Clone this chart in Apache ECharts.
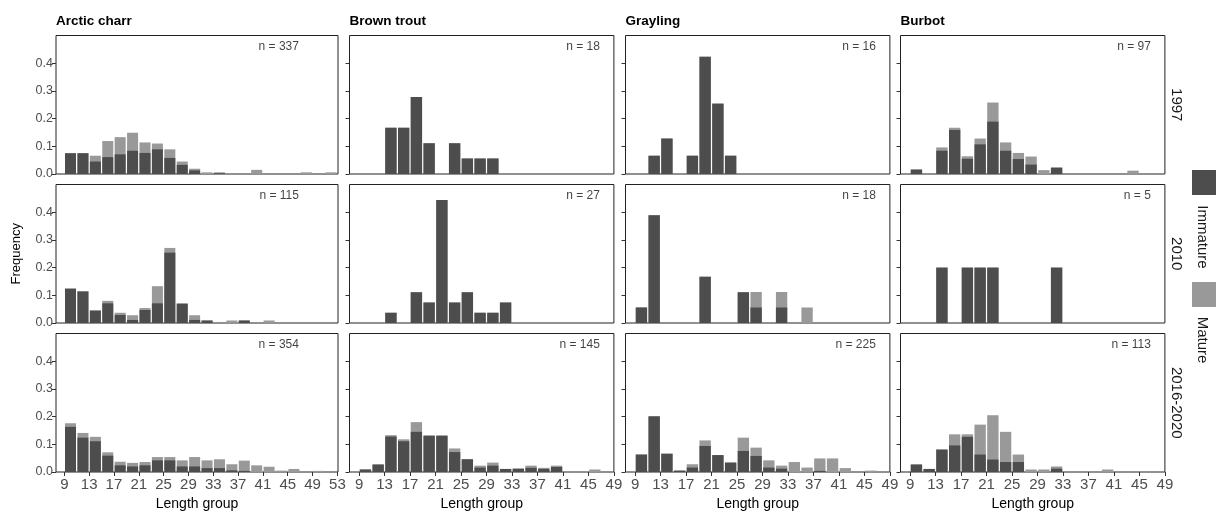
<!DOCTYPE html>
<html><head><meta charset="utf-8">
<script src="https://cdn.jsdelivr.net/npm/echarts@6/dist/echarts.min.js"></script>
<style>html,body{margin:0;padding:0;background:#fff}#c{width:1216px;height:514px}</style>
</head><body><div id="c"></div>
<script>
// ---------- data ----------
const species = ['Arctic charr', 'Brown trout', 'Grayling', 'Burbot'];
const periods = ['1997', '2010', '2016-2020'];
const binsCharr = [10,12,14,16,18,20,22,24,26,28,30,32,34,36,38,40,42,44,46,48,50,52];
const binsOther = [10,12,14,16,18,20,22,24,26,28,30,32,34,36,38,40,42,44,46,48];
const xTicksCharr = [9,13,17,21,25,29,33,37,41,45,49,53];
const xTicksOther = [9,13,17,21,25,29,33,37,41,45,49];
const yTicks = [0, 0.1, 0.2, 0.3, 0.4];
const nCounts1997 = [337, 18, 16, 97];
const nCounts2010 = [115, 27, 18, 5];
const nCounts2016 = [354, 145, 225, 113];

const charr1997Imm = [0.075,0.075,0.045,0.061,0.071,0.084,0.076,0.089,0.058,0.033,0.013,0,0.003,0,0,0,0,0,0,0,0,0];
const charr1997Mat = [0,0,0.021,0.058,0.062,0.065,0.038,0.021,0.031,0.012,0.006,0.006,0.003,0,0,0.015,0,0,0,0.006,0,0.006];
const trout1997Imm = [0,0,0.167,0.167,0.278,0.111,0,0.111,0.056,0.056,0.056,0,0,0,0,0,0,0,0,0];
const trout1997Mat = [0,0,0,0,0,0,0,0,0,0,0,0,0,0,0,0,0,0,0,0];
const grayling1997Imm = [0,0.066,0.128,0,0.066,0.423,0.254,0.066,0,0,0,0,0,0,0,0,0,0,0,0];
const grayling1997Mat = [0,0,0,0,0,0,0,0,0,0,0,0,0,0,0,0,0,0,0,0];
const burbot1997Imm = [0.016,0,0.084,0.159,0.055,0.107,0.189,0.084,0.054,0.034,0,0.023,0,0,0,0,0,0,0,0];
const burbot1997Mat = [0,0,0.012,0.008,0.009,0.021,0.069,0.030,0.022,0.029,0.014,0,0,0,0,0,0,0.012,0,0];

const charr2010Imm = [0.124,0.114,0.045,0.071,0.029,0.011,0.047,0.071,0.254,0.070,0.011,0.009,0,0,0.009,0,0,0,0,0,0,0];
const charr2010Mat = [0,0,0,0.009,0.008,0.017,0.007,0.062,0.017,0,0.017,0,0,0.009,0,0,0.009,0,0,0,0,0];
const trout2010Imm = [0,0,0.037,0,0.111,0.074,0.444,0.074,0.111,0.037,0.037,0.074,0,0,0,0,0,0,0,0];
const trout2010Mat = [0,0,0,0,0,0,0,0,0,0,0,0,0,0,0,0,0,0,0,0];
const grayling2010Imm = [0.056,0.389,0,0,0,0.167,0,0,0.111,0.056,0,0.056,0,0,0,0,0,0,0,0];
const grayling2010Mat = [0,0,0,0,0,0,0,0,0,0.056,0,0.056,0,0.056,0,0,0,0,0,0];
const burbot2010Imm = [0,0,0.2,0,0.2,0.2,0.2,0,0,0,0,0.2,0,0,0,0,0,0,0,0];
const burbot2010Mat = [0,0,0,0,0,0,0,0,0,0,0,0,0,0,0,0,0,0,0,0];

const charr2016Imm = [0.163,0.124,0.111,0.059,0.024,0.020,0.024,0.042,0.042,0.020,0.020,0.014,0.014,0.006,0.004,0,0,0,0,0,0,0];
const charr2016Mat = [0.013,0.017,0.016,0.012,0.013,0.013,0.012,0.012,0.012,0.022,0.034,0.028,0.032,0.022,0.037,0.024,0.019,0.005,0.011,0,0.004,0];
const trout2016Imm = [0.009,0.027,0.128,0.111,0.145,0.130,0.130,0.072,0.046,0.016,0.023,0.011,0.012,0.015,0.011,0.018,0,0,0,0];
const trout2016Mat = [0,0,0.005,0.007,0.035,0.003,0.003,0.013,0,0.007,0.011,0,0,0.008,0.004,0.005,0,0,0.009,0];
const grayling2016Imm = [0.063,0.201,0.066,0.005,0.016,0.094,0.061,0.034,0.076,0.058,0.016,0.012,0,0,0.004,0,0,0,0,0];
const grayling2016Mat = [0,0,0,0,0.012,0.020,0,0,0.048,0.030,0.026,0.011,0.036,0.016,0.045,0.049,0.014,0,0.005,0];
const burbot2016Imm = [0.027,0.011,0.081,0.096,0.127,0.063,0.045,0.036,0.036,0,0,0.012,0,0,0,0,0,0,0,0];
const burbot2016Mat = [0,0,0,0.040,0.009,0.108,0.160,0.109,0.027,0.009,0.009,0.008,0,0,0,0.009,0,0,0,0];

// ---------- assembly ----------
const immRows = [
  [charr1997Imm, trout1997Imm, grayling1997Imm, burbot1997Imm],
  [charr2010Imm, trout2010Imm, grayling2010Imm, burbot2010Imm],
  [charr2016Imm, trout2016Imm, grayling2016Imm, burbot2016Imm]
];
const matRows = [
  [charr1997Mat, trout1997Mat, grayling1997Mat, burbot1997Mat],
  [charr2010Mat, trout2010Mat, grayling2010Mat, burbot2010Mat],
  [charr2016Mat, trout2016Mat, grayling2016Mat, burbot2016Mat]
];
const nRows = [nCounts1997, nCounts2010, nCounts2016];
const colBins = [binsCharr, binsOther, binsOther, binsOther];
const colTicks = [xTicksCharr, xTicksOther, xTicksOther, xTicksOther];

// layout (pixels / axis extents)
const colLayout = [
  { left: 56,    width: 282,   min: 7.66, max: 53.1 },
  { left: 349.5, width: 264.4, min: 7.5,  max: 49 },
  { left: 625.5, width: 264.4, min: 7.5,  max: 49 },
  { left: 900.5, width: 264.4, min: 7.5,  max: 49 }
];
const rowTop = [35.5, 184.5, 333.5];
const rowH = 138.5;
const DARK = '#4d4d4d', LIGHT = '#999999';
const FONT = 'Liberation Sans, Arial, sans-serif';

const grids = [], xAxes = [], yAxes = [], series = [];
let gi = 0;
for (let r = 0; r < 3; r++) {
  for (let c = 0; c < 4; c++) {
    const L = colLayout[c];
    grids.push({ left: L.left, top: rowTop[r], width: L.width, height: rowH,
      show: true, borderColor: '#222', borderWidth: 1, backgroundColor: 'transparent',
      outerBoundsMode: 'none' });
    const bottom = r === 2;
    xAxes.push({
      type: 'value', gridIndex: gi, min: L.min, max: L.max,
      axisLine: { show: false },
      splitLine: { show: false },
      axisTick: { show: bottom, length: 4, lineStyle: { color: '#333' }, customValues: colTicks[c] },
      axisLabel: { show: bottom, customValues: colTicks[c], color: '#4d4d4d', fontSize: 15,
        fontFamily: FONT, margin: 5, showMinLabel: true, showMaxLabel: true },
      name: bottom ? 'Length group' : '', nameLocation: 'middle', nameGap: 25,
      nameTextStyle: { color: '#000', fontSize: 14, fontFamily: FONT }
    });
    yAxes.push({
      type: 'value', gridIndex: gi, min: 0, max: 0.5,
      axisLine: { show: false }, splitLine: { show: false },
      axisTick: { show: true, length: 4, lineStyle: { color: '#333' }, customValues: yTicks },
      axisLabel: { show: c === 0, customValues: yTicks, color: '#4d4d4d', fontSize: 12.5,
        fontFamily: FONT, margin: 3, formatter: v => v.toFixed(1) },
      name: (c === 0 && r === 1) ? 'Frequency' : '', nameLocation: 'middle', nameGap: 33,
      nameTextStyle: { color: '#000', fontSize: 13, fontFamily: FONT }
    });
    const bins = colBins[c];
    const imm = immRows[r][c], mat = matRows[r][c];
    const bw = L.width / (L.max - L.min) * 2 - 1.4;
    // light bar = immature + mature (top of the stack), dark immature bar drawn over its lower part
    series.push({
      type: 'bar', xAxisIndex: gi, yAxisIndex: gi, barWidth: bw, barGap: '-100%',
      data: bins.map((b, k) => [b, +(imm[k] + mat[k]).toFixed(4)]), itemStyle: { color: LIGHT }, silent: true
    });
    series.push({
      type: 'bar', xAxisIndex: gi, yAxisIndex: gi, barWidth: bw, barGap: '-100%',
      data: bins.map((b, k) => [b, imm[k]]), itemStyle: { color: DARK }, silent: true
    });
    series.push({
      type: 'scatter', xAxisIndex: gi, yAxisIndex: gi, symbolSize: 0, silent: true,
      data: [[46.8, 0.46]],
      label: { show: true, position: 'left', distance: 0, formatter: 'n = ' + nRows[r][c],
        color: '#111', fontSize: 12, fontFamily: FONT }
    });
    gi++;
  }
}

const graphics = [];
species.forEach((s, c) => {
  graphics.push({ type: 'text', x: colLayout[c].left, y: 21,
    style: { text: s, font: 'bold 13.5px ' + FONT, fill: '#000', textAlign: 'left', textVerticalAlign: 'middle' } });
});
periods.forEach((p, r) => {
  graphics.push({ type: 'text', x: 1176, y: rowTop[r] + rowH / 2, rotation: -Math.PI / 2,
    style: { text: p, font: '15px ' + FONT, fill: '#1a1a1a', textAlign: 'center', textVerticalAlign: 'middle' } });
});
// legend
graphics.push({ type: 'rect', shape: { x: 1192, y: 170, width: 25, height: 25 }, style: { fill: DARK } });
graphics.push({ type: 'text', x: 1202, y: 237, rotation: -Math.PI / 2,
  style: { text: 'Immature', font: '15px ' + FONT, fill: '#1a1a1a', textAlign: 'center', textVerticalAlign: 'middle' } });
graphics.push({ type: 'rect', shape: { x: 1192, y: 282, width: 25, height: 25 }, style: { fill: LIGHT } });
graphics.push({ type: 'text', x: 1202, y: 340, rotation: -Math.PI / 2,
  style: { text: 'Mature', font: '15px ' + FONT, fill: '#1a1a1a', textAlign: 'center', textVerticalAlign: 'middle' } });

const chart = echarts.init(document.getElementById('c'), null, { renderer: 'canvas' });
chart.setOption({
  animation: false,
  backgroundColor: '#fff',
  grid: grids, xAxis: xAxes, yAxis: yAxes, series: series,
  graphic: graphics
});
</script></body></html>
